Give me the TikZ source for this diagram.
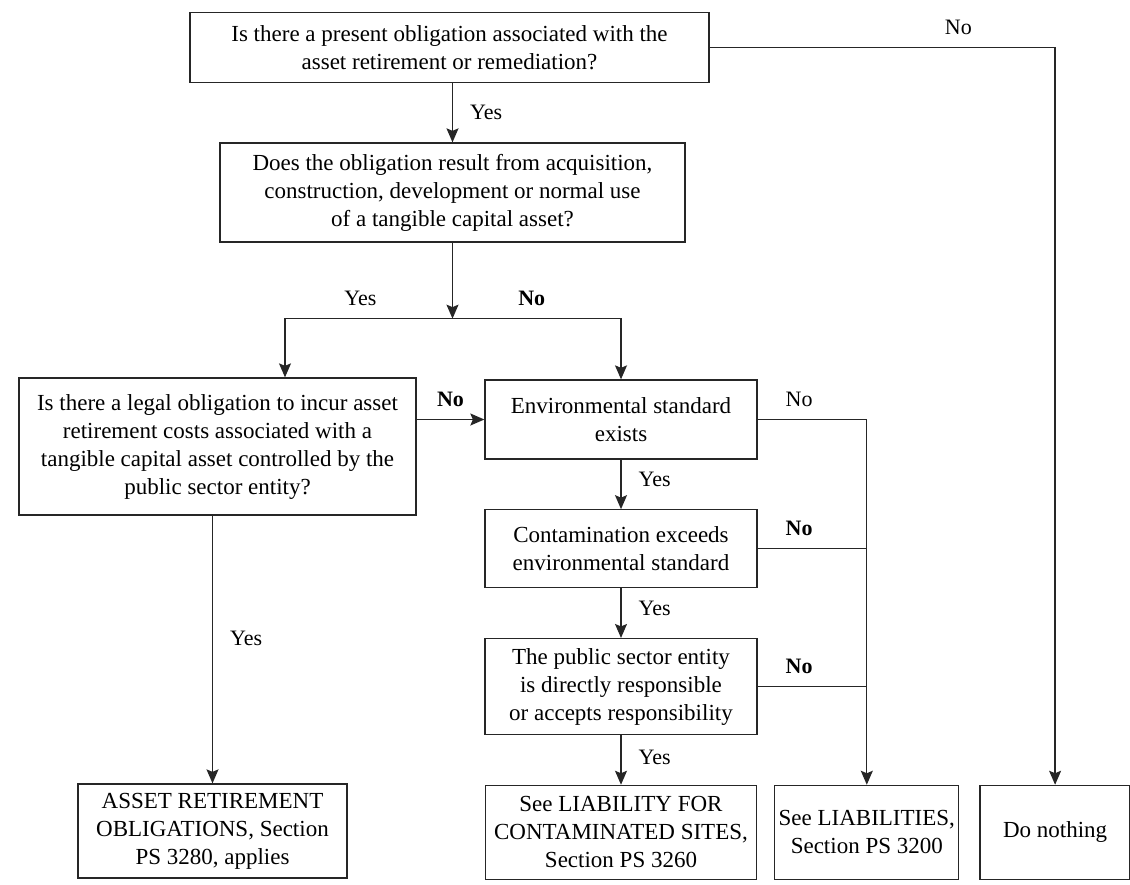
\documentclass[tikz,border=0pt]{standalone}
\usepackage{fontspec}
\setmainfont{Liberation Serif}
\usetikzlibrary{arrows.meta,positioning}
\tikzset{
  flowbox/.style={draw=black!85, line width=1.3pt, align=center, inner sep=2pt,
    font=\fontsize{23}{28}\selectfont},
  lnk/.style={line width=1.3pt, draw=black!85},
  arrw/.style={lnk, -{Stealth[length=14pt, width=12pt, inset=2.5pt]}},
  lbl/.style={font=\fontsize{22}{26}\selectfont, inner sep=1pt},
  blbl/.style={lbl, font=\fontsize{22}{26}\selectfont\bfseries},
}
\begin{document}
\begin{tikzpicture}[x=1pt, y=-1pt]
  \useasboundingbox (0,0) rectangle (1130,884);

  % questions
  \node[flowbox, minimum width=519pt, minimum height=70pt] (present) at (449.5,47.5)
    {Is there a present obligation associated with the\\asset retirement or remediation?};
  \node[flowbox, minimum width=465pt, minimum height=99pt] (result) at (452.5,192.5)
    {Does the obligation result from acquisition,\\construction, development or normal use\\of a tangible capital asset?};
  \node[flowbox, minimum width=397pt, minimum height=137pt] (legal) at (217.5,446.5)
    {Is there a legal obligation to incur asset\\retirement costs associated with a\\tangible capital asset controlled by the\\public sector entity?};
  \node[flowbox, minimum width=272pt, minimum height=79pt] (envstd) at (621,419.5)
    {Environmental standard\\exists};
  \node[flowbox, minimum width=272pt, minimum height=78pt, below=49.5pt of envstd] (exceeds)
    {Contamination exceeds\\environmental standard};
  \node[flowbox, minimum width=272pt, minimum height=96pt, below=49.5pt of exceeds] (respons)
    {The public sector entity\\is directly responsible\\or accepts responsibility};

  % outcomes
  \node[flowbox, minimum width=269pt, minimum height=94pt] (aro) at (212.5,831)
    {ASSET RETIREMENT\\OBLIGATIONS, Section\\PS 3280, applies};
  \node[flowbox, minimum width=271pt, minimum height=94pt, below=49.5pt of respons] (contam)
    {See LIABILITY FOR\\CONTAMINATED SITES,\\Section PS 3260};
  \node[flowbox, minimum width=184pt, minimum height=94pt, right=17pt of contam] (liabs)
    {See LIABILITIES,\\Section PS 3200};
  \node[flowbox, minimum width=150pt, minimum height=94pt, right=20pt of liabs] (nothing)
    {Do nothing};

  \coordinate[below=76pt of result.south] (split);
  \coordinate[left=167.5pt of split] (yesbend);

  \draw[arrw] (present.south -| result.north) -- node[lbl, right=16pt]{Yes} (result.north);
  \draw[arrw] (present.east) -- node[lbl, above=11pt, pos=0.72]{No}
    (present.east -| nothing.north) -- (nothing.north);
  \draw[arrw] (result.south) -- (split);
  \draw[arrw] (split) -- node[lbl, above=11pt, pos=0.55]{Yes} (yesbend)
    -- (yesbend |- legal.north);
  \draw[arrw] (split) -- node[blbl, above=11pt, pos=0.47]{No} (split -| envstd.north)
    -- (envstd.north);
  \draw[arrw] (legal.east |- envstd.west) -- node[blbl, above=11pt]{No} (envstd.west);
  \draw[arrw] (aro.north |- legal.south) -- node[lbl, right=16pt, pos=0.46]{Yes} (aro.north);

  \draw[arrw] (envstd) -- node[lbl, right=16pt, pos=0.4]{Yes} (exceeds);
  \draw[arrw] (exceeds) -- node[lbl, right=16pt, pos=0.4]{Yes} (respons);
  \draw[arrw] (respons) -- node[lbl, right=16pt, pos=0.45]{Yes} (contam);

  \draw[arrw] (envstd.east) -- node[lbl, above=11pt, pos=0.38]{No}
    (envstd.east -| liabs.north) -- (liabs.north);
  \draw[lnk] (exceeds.east) -- node[blbl, above=11pt, pos=0.38]{No} (exceeds.east -| liabs.north);
  \draw[lnk] (respons.east) -- node[blbl, above=11pt, pos=0.38]{No} (respons.east -| liabs.north);
\end{tikzpicture}
\end{document}
